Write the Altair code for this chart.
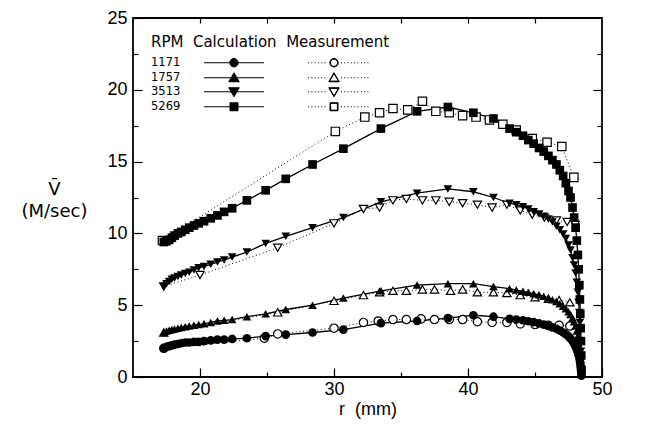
import altair as alt
import pandas as pd

RPMS = ["1171", "1757", "3513", "5269"]
SHAPES = ["circle", "triangle-up", "triangle-down", "square"]

# Radial stations of the calculation (mm); dense near both walls
CALC_R = [17.3, 17.5, 17.7, 17.9, 18.1, 18.35, 18.6, 18.9, 19.2, 19.55, 19.9, 20.3,
          20.8, 21.3, 21.8, 22.4, 23.5, 24.9, 26.4, 28.4, 30.7, 33.5, 36.2, 38.5,
          40.4, 41.9, 43.1,
          43.6, 44.1, 44.5, 44.9, 45.3, 45.65, 46.0, 46.3, 46.6, 46.85, 47.1, 47.3,
          47.5, 47.65, 47.8, 47.92, 48.03, 48.12, 48.2, 48.26, 48.31, 48.35, 48.38,
          48.41, 48.43, 48.45, 48.47]

# Calculated mean velocity (m/s)
CALC_1171 = [2.0, 2.1, 2.15, 2.2, 2.25, 2.3, 2.35, 2.4, 2.4, 2.45, 2.45, 2.5,
             2.55, 2.6, 2.6, 2.65, 2.7, 2.85, 2.95, 3.1, 3.3, 3.75, 3.9, 4.1,
             4.3, 4.2, 4.05,
             4.0, 3.95, 3.88, 3.82, 3.73, 3.65, 3.55, 3.46, 3.36, 3.24, 3.1, 2.98,
             2.83, 2.68, 2.5, 2.32, 2.12, 1.92, 1.72, 1.52, 1.32, 1.12, 0.92,
             0.72, 0.52, 0.32, 0.1]
CALC_1757 = [3.1, 3.2, 3.25, 3.3, 3.35, 3.4, 3.45, 3.5, 3.55, 3.6, 3.65, 3.7,
             3.8, 3.9, 3.95, 4.0, 4.2, 4.4, 4.7, 5.0, 5.5, 6.0, 6.4, 6.5,
             6.5, 6.3, 6.15,
             6.05, 5.97, 5.9, 5.8, 5.72, 5.62, 5.5, 5.38, 5.25, 5.1, 4.92, 4.75,
             4.55, 4.35, 4.1, 3.85, 3.55, 3.2, 2.85, 2.5, 2.15, 1.85, 1.55,
             1.25, 0.95, 0.6, 0.2]
CALC_3513 = [6.3, 6.5, 6.65, 6.8, 6.9, 7.0, 7.1, 7.2, 7.3, 7.45, 7.6, 7.7,
             7.85, 8.0, 8.15, 8.35, 8.7, 9.3, 9.8, 10.4, 11.1, 12.2, 12.8, 13.1,
             12.9, 12.5, 12.1,
             12.0, 11.85, 11.7, 11.5, 11.35, 11.2, 11.0, 10.8, 10.5, 10.25, 9.95, 9.65,
             9.2, 8.85, 8.3, 7.8, 7.25, 6.6, 5.9, 5.2, 4.5, 3.8, 3.2,
             2.5, 1.8, 1.1, 0.35]
CALC_5269 = [9.4, 9.45, 9.55, 9.7, 9.85, 10.0, 10.1, 10.25, 10.4, 10.55, 10.7, 10.85,
             11.05, 11.25, 11.5, 11.75, 12.3, 13.0, 13.8, 14.8, 15.9, 17.3, 18.5, 18.8,
             18.4, 18.0, 17.3,
             17.05, 16.8, 16.5, 16.25, 15.95, 15.7, 15.4, 15.1, 14.8, 14.4, 14.0, 13.5,
             12.95, 12.5, 11.8, 11.1, 10.4, 9.5, 8.5, 7.5, 6.4, 5.4, 4.4,
             3.4, 2.5, 1.5, 0.5]

# Measured mean velocity (m/s)
MEAS_R_1171 = [17.3, 24.8, 25.8, 30.0, 32.2, 33.3, 34.4, 35.4, 36.5, 37.5, 38.6,
               39.6, 40.7, 41.8, 42.9, 43.9, 45.0, 46.0, 46.8, 47.6]
MEAS_V_1171 = [2.0, 2.7, 3.0, 3.4, 3.8, 3.9, 4.0, 4.0, 4.05, 4.0, 4.0,
               4.0, 3.85, 3.8, 3.8, 3.7, 3.65, 3.6, 3.6, 3.55]
MEAS_R_1757 = [17.3, 25.8, 30.0, 32.2, 33.4, 34.4, 35.4, 36.6, 37.5, 38.7, 39.6,
               40.7, 41.9, 42.9, 43.9, 45.0, 46.0, 46.8, 47.6]
MEAS_V_1757 = [3.1, 4.5, 5.3, 5.7, 5.9, 6.0, 6.0, 6.1, 6.1, 6.0, 6.1,
               5.9, 5.9, 5.85, 5.7, 5.55, 5.45, 5.35, 5.2]
MEAS_R_3513 = [17.3, 20.0, 25.8, 30.0, 32.2, 33.4, 34.4, 35.4, 36.6, 37.6, 38.6,
               39.6, 40.7, 41.8, 42.9, 43.9, 44.8, 45.7, 46.6, 47.4, 48.0]
MEAS_V_3513 = [6.3, 7.1, 9.0, 10.7, 11.7, 11.8, 12.3, 12.4, 12.3, 12.3, 12.2,
               12.1, 12.0, 11.8, 12.0, 11.6, 11.3, 11.1, 10.9, 10.8, 10.6]
MEAS_R_5269 = [17.2, 30.1, 32.3, 33.4, 34.4, 35.5, 36.6, 37.6, 38.6, 39.6, 40.6,
               41.6, 42.6, 43.6, 44.8, 45.9, 47.0, 47.9]
MEAS_V_5269 = [9.5, 17.1, 18.1, 18.4, 18.7, 18.6, 19.2, 18.5, 18.4, 18.2, 18.1,
               17.9, 17.6, 17.2, 16.6, 16.35, 16.05, 13.9]

calc_v = {"1171": CALC_1171, "1757": CALC_1757, "3513": CALC_3513, "5269": CALC_5269}
meas = {"1171": (MEAS_R_1171, MEAS_V_1171), "1757": (MEAS_R_1757, MEAS_V_1757),
        "3513": (MEAS_R_3513, MEAS_V_3513), "5269": (MEAS_R_5269, MEAS_V_5269)}

calc_df = pd.DataFrame([
    {"rpm": k, "i": i, "r": r, "v": v}
    for k in RPMS for i, (r, v) in enumerate(zip(CALC_R, calc_v[k]))
])
meas_df = pd.DataFrame([
    {"rpm": k, "i": i, "r": r, "v": v}
    for k in RPMS for i, (r, v) in enumerate(zip(*meas[k]))
])


# Key symbols (symbol units; 1 unit = 5 px at symbolSize 100):
# solid line + filled marker, then dotted line + open marker.
def _circle(cx, r, sweep):
    return (f"M{cx + r:.3f},0A{r},{r},0,1,{sweep},{cx - r:.3f},0"
            f"A{r},{r},0,1,{sweep},{cx + r:.3f},0Z")


def _poly(pts):
    return "M" + "L".join(f"{x:.3f},{y:.3f}" for x, y in pts) + "Z"


def _marker(kind, cx, open_):
    if kind == "circle":
        p = _circle(cx, 0.84, 1)
        return p + (_circle(cx, 0.72, 0) if open_ else "")
    if kind == "square":
        def sq(s):
            return [(cx - s, -s), (cx + s, -s), (cx + s, s), (cx - s, s)]
        p = _poly(sq(0.8))
        return p + (_poly(sq(0.68)[::-1]) if open_ else "")
    sgn = -1 if kind == "triangle-up" else 1

    def tri(a):
        return [(cx, sgn * a), (cx + a * 1.05, -sgn * a * 0.8), (cx - a * 1.05, -sgn * a * 0.8)]
    p = _poly(tri(1.0))
    return p + (_poly(tri(0.84)[::-1]) if open_ else "")


def legend_path(kind):
    line_a, line_b, calc_c = 9.45, 21.45, 15.45
    dot_a, dot_b, meas_c = 30.25, 42.25, 35.45
    parts = [f"M{line_a},0H{line_b}", _marker(kind, calc_c, False)]
    p = dot_a
    while p < dot_b:
        if abs(p - meas_c) > 1.3:
            parts.append(f"M{p:.2f},0h0.2")
        p += 0.66
    parts.append(_marker(kind, meas_c, True))
    return "".join(parts)


LEGEND_PATHS = [legend_path(s) for s in SHAPES]

x_scale = alt.Scale(domain=[15, 50], nice=False, zero=False)
y_scale = alt.Scale(domain=[0, 25], nice=False)

TICK_FONT = "Liberation Sans"

x_major = alt.Axis(orient="bottom", values=[20, 30, 40, 50], offset=-9, tickSize=9,
                   labelPadding=3, labelFontSize=18, labelFont=TICK_FONT, labelFlush=False,
                   title="r\u00a0\u00a0(mm)", titleFont=TICK_FONT, titleFontSize=18,
                   titleFontWeight="normal", titlePadding=2)
y_major = alt.Axis(orient="left", values=[0, 5, 10, 15, 20, 25], offset=-9, tickSize=9,
                   labelPadding=6, labelFontSize=18, labelFont=TICK_FONT, labelFlush=False,
                   title=["V\u0304", "(M/sec)"], titleFont="DejaVu Sans", titleFontSize=18,
                   titleFontWeight="normal", titleAngle=0, titleAlign="center",
                   titleBaseline="top", titleX=-88, titleY=162, titleLineHeight=22)
x_minor = alt.Axis(orient="bottom", values=[25, 35, 45], offset=-5, tickSize=5,
                   labels=False, title=None)
y_minor = alt.Axis(orient="left", values=[2.5, 7.5, 12.5, 17.5, 22.5], offset=-5,
                   tickSize=5, labels=False, title=None)
x_top = alt.Axis(orient="top", values=[20, 25, 30, 35, 40, 45], offset=-5, tickSize=5,
                 labels=False, title=None)
y_right_major = alt.Axis(orient="right", values=[5, 10, 15, 20], offset=-9, tickSize=9,
                         labels=False, title=None)
y_right_minor = alt.Axis(orient="right", values=[2.5, 7.5, 12.5, 17.5, 22.5], offset=-5,
                         tickSize=5, labels=False, title=None)

base_calc = alt.Chart(calc_df)
base_meas = alt.Chart(meas_df)

meas_line = base_meas.mark_line(color="black", strokeWidth=1, strokeDash=[1, 2.6]).encode(
    x=alt.X("r:Q", scale=x_scale, axis=x_minor),
    y=alt.Y("v:Q", scale=y_scale, axis=y_minor),
    detail="rpm:N", order="i:Q",
)
calc_line = base_calc.mark_line(color="black", strokeWidth=1.3).encode(
    x=alt.X("r:Q", scale=x_scale, axis=x_major),
    y=alt.Y("v:Q", scale=y_scale, axis=y_major),
    detail="rpm:N", order="i:Q",
)
meas_pts = base_meas.mark_point(filled=True, fill="white", stroke="black", strokeWidth=1.2,
                                size=70, opacity=1).encode(
    x=alt.X("r:Q", scale=x_scale, axis=x_top),
    y=alt.Y("v:Q", scale=y_scale, axis=y_right_major),
    shape=alt.Shape("rpm:N", scale=alt.Scale(domain=RPMS, range=SHAPES), legend=None),
)
calc_pts = base_calc.mark_point(filled=True, color="black", size=75, opacity=1).encode(
    x=alt.X("r:Q", scale=x_scale, axis=None),
    y=alt.Y("v:Q", scale=y_scale, axis=y_right_minor),
    shape=alt.Shape("rpm:N", scale=alt.Scale(domain=RPMS, range=SHAPES), legend=None),
)
# Key: RPM label on the left, then the calculation and measurement symbols
key = base_calc.transform_filter("false").mark_point(
    filled=True, fill="black", stroke="black", strokeWidth=1, size=100, opacity=1
).encode(
    x=alt.X("r:Q", scale=x_scale, axis=None),
    y=alt.Y("v:Q", scale=y_scale, axis=None),
    shape=alt.Shape(
        "rpm:N",
        scale=alt.Scale(domain=RPMS, range=LEGEND_PATHS),
        legend=alt.Legend(
            title="RPM\u00a0\u00a0Calculation\u00a0\u00a0Measurement",
            orient="none", legendX=18, legendY=16.5, direction="vertical",
            padding=0, titleFont="DejaVu Sans", titleFontSize=15, titleFontWeight="normal",
            titleColor="black", titleLimit=500, titlePadding=7.5, titleBaseline="top",
            labelFont="DejaVu Sans", labelFontSize=11.5, labelColor="black",
            labelAlign="right", labelOffset=17.8, labelLimit=100,
            symbolOffset=0, symbolSize=100, symbolStrokeWidth=1,
            rowPadding=1.0,
        ),
    ),
)

chart = alt.layer(meas_line, calc_line, meas_pts, calc_pts, key).resolve_scale(
    shape="independent"
).resolve_axis(x="independent", y="independent").properties(
    width=469, height=359,
    autosize=alt.AutoSizeParams(type="none"),
    padding={"left": 133, "top": 18, "right": 51, "bottom": 53},
).configure_view(stroke="black", strokeWidth=1.8).configure_axis(
    grid=False, domain=False, tickColor="black", tickWidth=1.2,
    labelColor="black", titleColor="black",
)

chart.save("out.html", embed_options={"renderer": "svg", "actions": False})
